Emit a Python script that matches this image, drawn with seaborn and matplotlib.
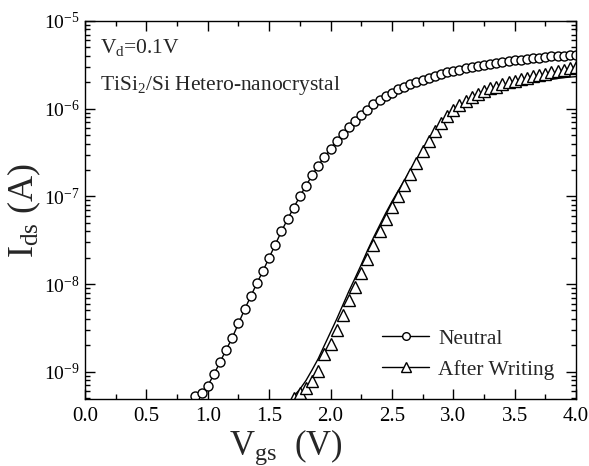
"""Transfer curves (Ids vs Vgs) before and after writing

"""

import math

import matplotlib
matplotlib.use("Agg")
import matplotlib.pyplot as plt
from matplotlib.lines import Line2D
from matplotlib.ticker import FixedLocator, FuncFormatter, LogLocator, MultipleLocator, NullFormatter
import seaborn as sns

# Neutral: gate sweep 0.90 .. 4.00 V
neutral_vgs = [
    0.90, 0.95, 1.00, 1.05, 1.10, 1.15, 1.20, 1.25, 1.30, 1.35,
    1.40, 1.45, 1.50, 1.55, 1.60, 1.65, 1.70, 1.75, 1.80, 1.85,
    1.90, 1.95, 2.00, 2.05, 2.10, 2.15, 2.20, 2.25, 2.30, 2.35,
    2.40, 2.45, 2.50, 2.55, 2.60, 2.65, 2.70, 2.75, 2.80, 2.85,
    2.90, 2.95, 3.00, 3.05, 3.10, 3.15, 3.20, 3.25, 3.30, 3.35,
    3.40, 3.45, 3.50, 3.55, 3.60, 3.65, 3.70, 3.75, 3.80, 3.85,
    3.90, 3.95, 4.00,
]
neutral_ids = [
    5.25e-10, 5.75e-10, 6.92e-10, 9.33e-10, 1.29e-9, 1.78e-9, 2.45e-9, 3.55e-9, 5.13e-9, 7.24e-9,
    1.02e-8, 1.41e-8, 2.00e-8, 2.82e-8, 3.98e-8, 5.50e-8, 7.41e-8, 1.00e-7, 1.32e-7, 1.74e-7,
    2.24e-7, 2.82e-7, 3.47e-7, 4.27e-7, 5.13e-7, 6.17e-7, 7.24e-7, 8.51e-7, 9.77e-7, 1.12e-6,
    1.26e-6, 1.38e-6, 1.51e-6, 1.66e-6, 1.78e-6, 1.91e-6, 2.04e-6, 2.14e-6, 2.26e-6, 2.37e-6,
    2.48e-6, 2.60e-6, 2.69e-6, 2.79e-6, 2.88e-6, 2.99e-6, 3.09e-6, 3.16e-6, 3.24e-6, 3.31e-6,
    3.39e-6, 3.47e-6, 3.55e-6, 3.63e-6, 3.67e-6, 3.76e-6, 3.80e-6, 3.89e-6, 3.94e-6, 3.98e-6,
    4.03e-6, 4.07e-6, 4.12e-6,
]

# After writing: gate sweep 1.70 .. 4.00 V
written_vgs = [
    1.70, 1.75, 1.80, 1.85, 1.90, 1.95, 2.00, 2.05, 2.10, 2.15,
    2.20, 2.25, 2.30, 2.35, 2.40, 2.45, 2.50, 2.55, 2.60, 2.65,
    2.70, 2.75, 2.80, 2.85, 2.90, 2.95, 3.00, 3.05, 3.10, 3.15,
    3.20, 3.25, 3.30, 3.35, 3.40, 3.45, 3.50, 3.55, 3.60, 3.65,
    3.70, 3.75, 3.80, 3.85, 3.90, 3.95, 4.00,
]
written_ids = [
    5.01e-10, 5.75e-10, 6.46e-10, 7.76e-10, 1.02e-9, 1.58e-9, 2.09e-9, 3.02e-9, 4.47e-9, 6.61e-9,
    9.33e-9, 1.32e-8, 1.95e-8, 2.82e-8, 3.98e-8, 5.50e-8, 7.59e-8, 1.02e-7, 1.35e-7, 1.78e-7,
    2.40e-7, 3.31e-7, 4.27e-7, 5.50e-7, 6.92e-7, 8.32e-7, 9.77e-7, 1.10e-6, 1.23e-6, 1.35e-6,
    1.48e-6, 1.58e-6, 1.70e-6, 1.78e-6, 1.91e-6, 2.00e-6, 2.09e-6, 2.19e-6, 2.26e-6, 2.34e-6,
    2.43e-6, 2.51e-6, 2.60e-6, 2.69e-6, 2.79e-6, 2.88e-6, 2.99e-6,
]
# the drawn line for the written state sits a little off its symbols
written_line_ids = [
    5.25e-10, 6.31e-10, 7.94e-10, 1.05e-9, 1.41e-9, 2.00e-9, 2.82e-9, 3.98e-9, 5.75e-9, 8.32e-9,
    1.17e-8, 1.66e-8, 2.40e-8, 3.39e-8, 4.68e-8, 6.46e-8, 8.71e-8, 1.15e-7, 1.51e-7, 2.00e-7,
    2.63e-7, 3.39e-7, 4.27e-7, 5.25e-7, 6.31e-7, 7.41e-7, 8.51e-7, 9.55e-7, 1.05e-6, 1.15e-6,
    1.26e-6, 1.35e-6, 1.45e-6, 1.55e-6, 1.62e-6, 1.70e-6, 1.78e-6, 1.86e-6, 1.93e-6, 2.00e-6,
    2.04e-6, 2.11e-6, 2.16e-6, 2.21e-6, 2.26e-6, 2.29e-6, 2.32e-6,
]

y_decades = [1e-9, 1e-8, 1e-7, 1e-6, 1e-5]
legend_labels = ["Neutral", "After Writing"]

sns.set_style("ticks")
plt.rcParams["font.family"] = ["Liberation Serif", "DejaVu Serif"]
plt.rcParams["mathtext.fontset"] = "custom"
plt.rcParams["mathtext.rm"] = "Liberation Serif"
plt.rcParams["mathtext.it"] = "Liberation Serif:italic"

fig = plt.figure(figsize=(5.89, 4.66), dpi=100)
ax = fig.add_axes([0.1443, 0.1438, 0.8337, 0.8112])

# Neutral: circles joined by a line
sns.lineplot(x=neutral_vgs, y=neutral_ids, ax=ax, marker="o", markersize=6.5,
             markerfacecolor="white", markeredgecolor="black",
             markeredgewidth=1.0, color="black", linewidth=1.0)
# After writing: line, then triangles on top
sns.lineplot(x=written_vgs, y=written_line_ids, ax=ax, color="black",
             linewidth=1.0)
sns.lineplot(x=written_vgs, y=written_ids, ax=ax, marker="^", markersize=8,
             markerfacecolor="white", markeredgecolor="black",
             markeredgewidth=1.0, color="black", linestyle="none")

ax.set_yscale("log")
ax.set_xlim(0.0, 4.0)
ax.set_ylim(4.89e-10, 1e-5)

ax.xaxis.set_major_locator(MultipleLocator(0.5))
ax.xaxis.set_minor_locator(MultipleLocator(0.25))
ax.xaxis.set_major_formatter(FuncFormatter(lambda v, p: f"{v:.1f}"))
ax.yaxis.set_major_locator(FixedLocator(y_decades))
ax.yaxis.set_minor_locator(LogLocator(base=10, subs=range(2, 10)))
ax.yaxis.set_minor_formatter(NullFormatter())
ax.yaxis.set_major_formatter(FuncFormatter(
    lambda v, p: r"$10^{%d}$" % round(math.log10(v))))

ax.tick_params(which="both", direction="in", top=True, right=True,
               width=1.0, colors="black")
ax.tick_params(which="major", length=7)
ax.tick_params(which="minor", length=3.5)
ax.tick_params(axis="x", labelsize=15, pad=6)
ax.tick_params(axis="y", labelsize=14, pad=4)
for spine in ax.spines.values():
    spine.set_color("black")
    spine.set_linewidth(1.0)

ax.set_xlabel(r"$\mathrm{V_{gs}}$  (V)", fontsize=25)
ax.xaxis.set_label_coords(0.41, -0.075)
ax.set_ylabel(r"$\mathrm{I_{ds}}$ (A)", fontsize=26)
ax.yaxis.set_label_coords(-0.086, 0.5)

ax.text(0.03, 0.93, r"$\mathrm{V_d}$=0.1V", transform=ax.transAxes,
        fontsize=15.5, va="center")
ax.text(0.03, 0.83, r"TiSi$_2$/Si Hetero-nanocrystal", transform=ax.transAxes,
        fontsize=15.5, va="center")

handles = [
    Line2D([], [], color="black", linewidth=1.0, marker="o", markersize=5.5,
           markerfacecolor="white", markeredgecolor="black"),
    Line2D([], [], color="black", linewidth=1.0, marker="^", markersize=7.5,
           markerfacecolor="white", markeredgecolor="black"),
]
ax.legend(handles, legend_labels, loc="lower right", frameon=False,
          fontsize=15.5, handlelength=2.2, handletextpad=0.4,
          labelspacing=0.5, bbox_to_anchor=(0.995, 0.0))

fig.savefig("out.png", dpi=100)
